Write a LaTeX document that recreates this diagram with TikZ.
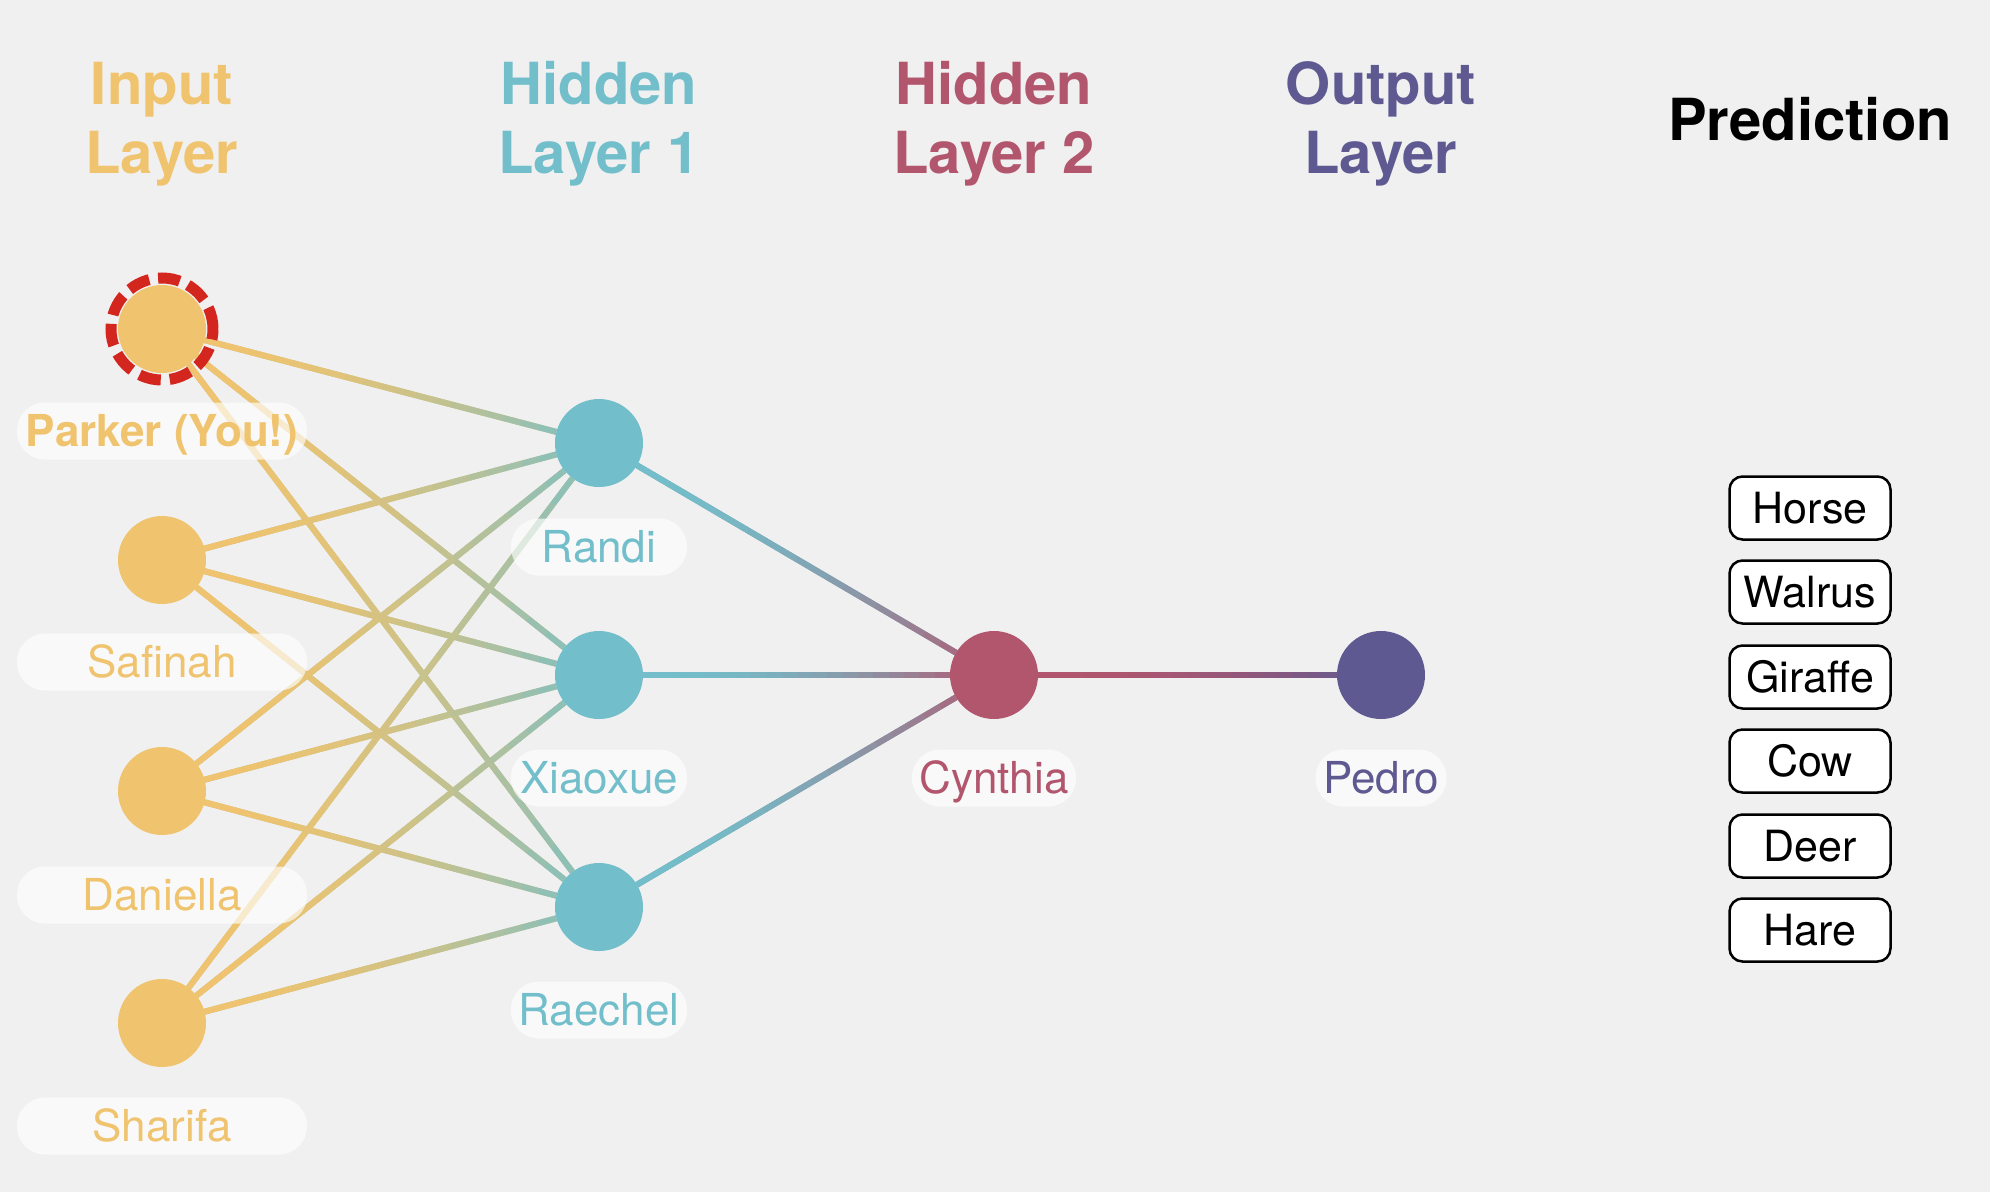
\documentclass[tikz,border=0pt]{standalone}
\usepackage{fontspec}
\setmainfont{TeX Gyre Heros}
\usetikzlibrary{calc}
\definecolor{bg}{HTML}{F0F0F0}
\definecolor{cin}{HTML}{F0C36E}
\definecolor{chid}{HTML}{72BFCB}
\definecolor{chidb}{HTML}{B2566E}
\definecolor{cout}{HTML}{5E5A91}
\definecolor{ringred}{HTML}{D2261E}
\newcommand\gradedge[4]{%
  \coordinate (gs) at ($(#1)!44pt!(#2)$);
  \coordinate (ge) at ($(#2)!44pt!(#1)$);
  \draw[conn, draw=#3!70!#4] (gs) -- (ge);
  \foreach \i in {0,...,19}{%
    \pgfmathsetmacro\pa{\i/20}%
    \pgfmathsetmacro\pb{(\i+1)/20}%
    \pgfmathtruncatemacro\pc{100-80*((\i+0.5)/20)^2}%
    \draw[conn, draw=#3!\pc!#4] ($(gs)!\pa!(ge)$) -- ($(gs)!\pb!(ge)$);
  }%
}
\begin{document}
\begin{tikzpicture}[x=1pt,y=-1pt,
  conn/.style={line width=6pt},
  neuron/.style={circle, minimum size=88pt, inner sep=0pt, draw=none},
  pill/.style={rounded corners=28pt, fill=white, fill opacity=0.65, text opacity=1,
    minimum height=57pt, inner sep=0pt, text height=31pt, text depth=0pt,
    font=\fontsize{44}{44}\selectfont},
  title/.style={align=center, font=\fontsize{58}{69}\selectfont\bfseries},
  predbox/.style={draw=black, line width=2.5pt, fill=white, rounded corners=13pt,
    minimum width=161pt, minimum height=63pt, inner sep=0pt, text height=30pt, text depth=0pt,
    font=\fontsize{43}{43}\selectfont}]
\useasboundingbox (0,0) rectangle (1990,1192);
\fill[bg] (0,0) rectangle (1990,1192);

% titles
\node[title, text=cin] (tin) at (162,124) {Input\\Layer};
\node[title, text=chid] (th1) at (599,124) {Hidden\\Layer 1};
\node[title, text=chidb] (th2) at (994,124) {Hidden\\Layer 2};
\node[title, text=cout] (tout) at (1381,124) {Output\\Layer};
\node[title, text=black] (tpred) at (1810,119) {Prediction};

% neuron coordinates (nodes drawn later)
\coordinate (parker) at (162,329);
\coordinate (safinah) at (162,560);
\coordinate (daniella) at (162,791);
\coordinate (sharifa) at (162,1023);
\coordinate (randi) at (599,443);
\coordinate (xiaoxue) at (599,675);
\coordinate (raechel) at (599,907);
\coordinate (cynthia) at (994,675);
\coordinate (pedro) at (1381,675);

% edges
\foreach \a in {parker,safinah,daniella,sharifa}{
  \foreach \b in {randi,xiaoxue,raechel}{
    \gradedge{\a}{\b}{cin}{chid}
  }
}
\foreach \b in {randi,xiaoxue,raechel}{
  \gradedge{\b}{cynthia}{chid}{chidb}
}
\gradedge{cynthia}{pedro}{chidb}{cout}

% label pills
\node[pill, minimum width=290pt, text=cin, font=\fontsize{44}{44}\selectfont\bfseries] (lparker) at (162,431) {Parker (You!)};
\node[pill, minimum width=290pt, text=cin] (lsafinah) at (162,662) {Safinah};
\node[pill, minimum width=290pt, text=cin] (ldaniella) at (162,895) {Daniella};
\node[pill, minimum width=290pt, text=cin] (lsharifa) at (162,1126) {Sharifa};
\node[pill, minimum width=176pt, text=chid] (lrandi) at (599,547) {Randi};
\node[pill, minimum width=176pt, text=chid] (lxiaoxue) at (599,778) {Xiaoxue};
\node[pill, minimum width=176pt, text=chid] (lraechel) at (599,1010) {Raechel};
\node[pill, minimum width=164pt, text=chidb] (lcynthia) at (994,778) {Cynthia};
\node[pill, minimum width=131pt, text=cout] (lpedro) at (1381,778) {Pedro};

% neurons
\node[neuron, fill=cin] (nparker) at (parker) {};
\node[neuron, fill=cin] (nsafinah) at (safinah) {};
\node[neuron, fill=cin] (ndaniella) at (daniella) {};
\node[neuron, fill=cin] (nsharifa) at (sharifa) {};
\node[neuron, fill=chid] (nrandi) at (randi) {};
\node[neuron, fill=chid] (nxiaoxue) at (xiaoxue) {};
\node[neuron, fill=chid] (nraechel) at (raechel) {};
\node[neuron, fill=chidb] (ncynthia) at (cynthia) {};
\node[neuron, fill=cout] (npedro) at (pedro) {};
\draw[ringred, line width=11pt, dash pattern=on 22pt off 9pt] (nparker.center) circle[radius=51pt];

% predictions
\node[predbox] (horse) at (1810,508) {Horse};
\node[predbox] (walrus) at (1810,592) {Walrus};
\node[predbox] (giraffe) at (1810,677) {Giraffe};
\node[predbox] (cow) at (1810,761) {Cow};
\node[predbox] (deer) at (1810,846) {Deer};
\node[predbox] (hare) at (1810,930) {Hare};
\end{tikzpicture}
\end{document}
